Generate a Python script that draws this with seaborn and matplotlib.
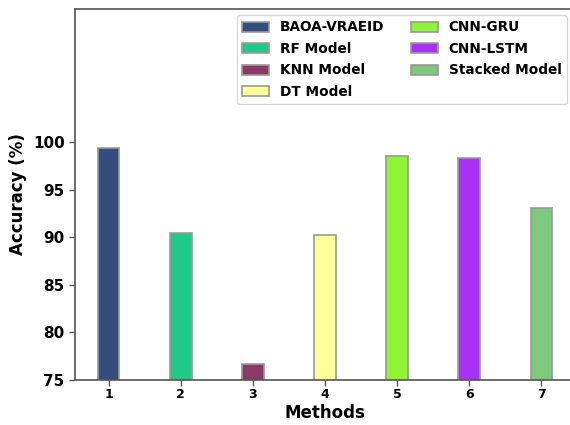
import matplotlib
matplotlib.use("Agg")
import matplotlib.pyplot as plt
import seaborn as sns
import pandas as pd

methods = ["BAOA-VRAEID", "RF Model", "KNN Model", "DT Model",
           "CNN-GRU", "CNN-LSTM", "Stacked Model"]
accuracy = [99.4, 90.5, 76.7, 90.2, 98.5, 98.3, 93.1]
tick_labels = ["1", "2", "3", "4", "5", "6", "7"]
colors = ["#344d7e", "#20c98a", "#8b3a68", "#ffff99",
          "#8ef535", "#a933f5", "#7fc97f"]

sns.set_style("white")
plt.rcParams["font.family"] = ["DejaVu Sans"]
plt.rcParams["text.color"] = "black"
plt.rcParams["axes.labelcolor"] = "black"
plt.rcParams["xtick.color"] = "black"
plt.rcParams["ytick.color"] = "black"

df = pd.DataFrame({"Method": methods, "Accuracy": accuracy})

fig = plt.figure(figsize=(5.7, 4.25), dpi=100)
ax = fig.add_axes([75 / 570, 45 / 425, 500 / 570, 371 / 425])

sns.barplot(data=df, x="Method", y="Accuracy", hue="Method",
            palette=colors, width=0.3, dodge=False, legend=True,
            edgecolor="#999999", linewidth=1.2, saturation=1, ax=ax)

ax.set_ylim(75, 114)
ax.set_xlim(-0.465, 6.465)
ax.set_yticks([75, 80, 85, 90, 95, 100])
ax.set_xticks(range(len(tick_labels)))
ax.set_xticklabels(tick_labels)

for lbl in ax.get_yticklabels():
    lbl.set_fontweight("bold")
    lbl.set_fontsize(11)
for lbl in ax.get_xticklabels():
    lbl.set_fontweight("bold")
    lbl.set_fontsize(9)

ax.tick_params(axis="both", direction="out", length=4, width=1,
               color="#555555", labelcolor="black", left=True, bottom=True)
ax.tick_params(axis="x", pad=2)
ax.set_xlabel("Methods", fontsize=12, fontweight="bold", labelpad=2)
ax.set_ylabel("Accuracy (%)", fontsize=12, fontweight="bold")

for sp in ax.spines.values():
    sp.set_color("#555555")
    sp.set_linewidth(1.2)

handles, labels = ax.get_legend_handles_labels()
leg = ax.legend(handles, labels, ncol=2, loc="upper right",
                bbox_to_anchor=(567 / 570, 1 - 15 / 425),
                bbox_transform=fig.transFigure, borderaxespad=0,
                prop={"weight": "bold", "size": 9.8}, frameon=True,
                edgecolor="#cccccc", fancybox=True, handlelength=2.0,
                handleheight=0.75, columnspacing=1.9, labelspacing=0.55)
for t in leg.get_texts():
    t.set_color("black")

fig.savefig("out.png", dpi=100)
